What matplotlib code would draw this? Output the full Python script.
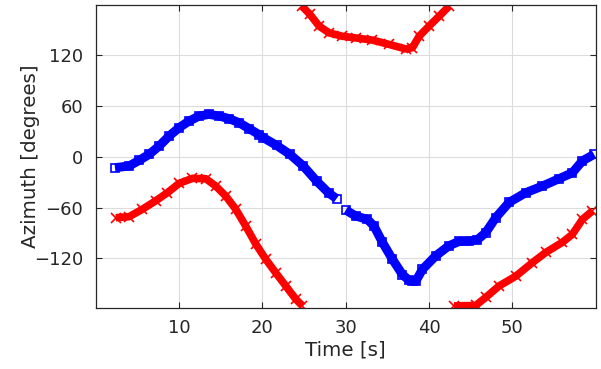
import matplotlib
matplotlib.use("Agg")
import matplotlib.pyplot as plt

# === Данные ===
# синяя кривая (квадраты), до разрыва
t_blue1 = [2.3, 4.0, 5.2, 6.4, 7.6, 8.8, 10.0, 11.2, 12.4, 13.6, 14.8, 16.0,
           17.2, 18.4, 19.6, 20.1, 21.7, 23.3, 24.9, 26.5, 28.0, 28.9]
az_blue1 = [-13, -11, -4.4, 2.7, 12.5, 24.3, 34.2, 42, 47.9, 49.9, 47.9, 44.8,
            40, 33, 26, 22.4, 13.3, 2.7, -11, -28.8, -43.3, -49.5]
# синяя кривая после разрыва
t_blue2 = [30.0, 31.2, 32.6, 33.4, 34.4, 35.6, 36.8, 37.6, 38.0, 38.4, 39.2,
           40.8, 42.4, 43.6, 44.8, 45.8, 46.8, 48.0, 49.6, 51.6, 53.6, 55.6,
           57.2, 58.4, 59.8]
az_blue2 = [-63, -70, -74, -82, -101, -121, -139, -146, -147, -147, -133,
            -117, -105, -100, -99.5, -98, -89.6, -72, -54, -42.5, -34.7, -26,
            -19, -5, 2.7]

# красная кривая (крестики), три куска из-за перехода через +-180
t_red1 = [2.4, 4.0, 5.6, 7.2, 8.6, 10.0, 11.6, 13.2, 14.4, 15.6, 16.8, 18.0,
          19.2, 20.4, 21.6, 22.8, 24.0, 24.8]
az_red1 = [-72, -70.8, -62, -52, -42.5, -31.5, -25.6, -26, -34.7, -46.5, -62,
           -82, -103, -121, -137, -152.5, -168, -176]
t_red2 = [24.7, 25.7, 26.8, 28.0, 29.6, 31.2, 33.2, 35.2, 37.2, 38.0, 38.8,
          40.0, 41.2, 42.4]
az_red2 = [178, 167.8, 154, 146, 142, 140, 137.5, 132.4, 127, 128.5, 142,
           154, 165.6, 177.5]
t_red3 = [43.0, 45.6, 46.8, 48.4, 50.4, 52.4, 54.0, 56.0, 57.2, 58.4, 59.6]
az_red3 = [-176, -175.5, -166, -152.5, -141, -125, -113, -101, -91.6, -74, -64]

x_ticks = [10, 20, 30, 40, 50]
y_ticks = [-120, -60, 0, 60, 120]

# === Настройка графика ===
fig = plt.figure(figsize=(6.01, 3.69), dpi=100)
ax = fig.add_axes([0.1594, 0.1653, 0.9912 - 0.1594, 0.9856 - 0.1653])

dark = "#262626"
blue_style = dict(color="blue", lw=6.5, marker="s", ms=5.5, mfc="none",
                  mec="blue", mew=1.2, solid_capstyle="butt",
                  solid_joinstyle="round")
red_style = dict(color="red", lw=5.5, marker="x", ms=6.5, mec="red", mew=1.2,
                 solid_capstyle="butt", solid_joinstyle="round")

ax.plot(t_blue1, az_blue1, **blue_style)
ax.plot(t_blue2, az_blue2, **blue_style)
ax.plot(t_red1, az_red1, **red_style)
ax.plot(t_red2, az_red2, **red_style)
ax.plot(t_red3, az_red3, **red_style)

ax.set_xlim(0, 60)
ax.set_ylim(-178.5, 178.5)
ax.set_xticks(x_ticks)
ax.set_yticks(y_ticks)
ax.grid(True, color="#dcdcdc", lw=0.8)
ax.set_axisbelow(True)

ax.tick_params(direction="in", length=4, width=0.8, colors=dark,
               labelsize=13, top=True, right=True)
ax.tick_params(axis="x", pad=8)
ax.tick_params(axis="y", pad=9)
for s in ax.spines.values():
    s.set_color(dark)
    s.set_linewidth(0.9)

ax.set_xlabel("Time [s]", fontsize=14.3, color=dark)
ax.set_ylabel("Azimuth [degrees]", fontsize=14.3, color=dark)
ax.xaxis.set_label_coords(0.5, -0.108)
ax.yaxis.set_label_coords(-0.112, 0.5)

fig.savefig("out.png", dpi=100)
